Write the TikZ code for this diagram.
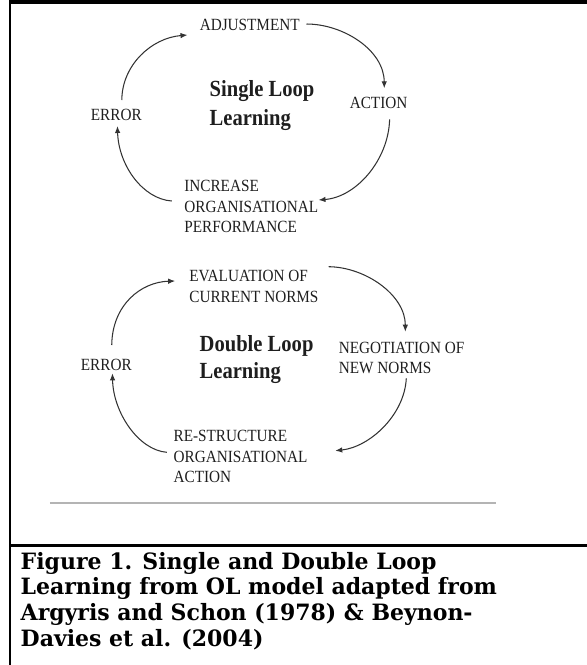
\documentclass[tikz,border=0pt]{standalone}
\usepackage{fontspec}
\setmainfont{Liberation Serif}
\newfontfamily\capfont{DejaVu Serif}
\usetikzlibrary{arrows.meta}
\definecolor{txtc}{HTML}{1E1E1E}
\definecolor{arrc}{HTML}{333333}
\definecolor{rulegray}{HTML}{B4B4B4}
\newcommand\mlines[1]{\begin{tabular}[t]{@{}l@{}}#1\end{tabular}}
\begin{document}
\begin{tikzpicture}[x=1pt,y=-1pt,xscale=0.891,
  lbl/.style={anchor=base west, inner sep=0pt, transform shape, text=txtc, font=\fontsize{17.1}{20.6}\selectfont},
  ttl/.style={anchor=base west, inner sep=0pt, transform shape, text=txtc, font=\bfseries\fontsize{23.1}{#1}\selectfont},
  flow/.style={draw=arrc, line width=1.05pt, -{Latex[length=7pt,width=5.5pt]}}]
\useasboundingbox (0,0) rectangle (658.8,665);
% frame
\draw[line width=3.5pt] (11,2.2) -- (658.8,2.2);
\draw[line width=2pt] (11,0) -- (11,665);
\draw[line width=2.4pt] (11,545.5) -- (658.8,545.5);
\draw[line width=2pt, rulegray] (56,502.5) -- (557,502.5);
% single loop
\node[lbl] (adj) at (224,30.7) {ADJUSTMENT};
\node[lbl] (act) at (392.4,108.3) {ACTION};
\node[lbl] (err1) at (101.8,120) {ERROR};
\node[lbl] (inc) at (206.7,191.7) {\mlines{INCREASE\\ORGANISATIONAL\\PERFORMANCE}};
\node[ttl=28.3] (sll) at (235.1,96.7) {\mlines{Single Loop\\Learning}};
\coordinate (a1s) at (344,24);      \coordinate (a1e) at (431.3,88.3);
\coordinate (a2s) at (437.3,119.3); \coordinate (a2e) at (357.5,200);
\coordinate (a3s) at (192.8,201);   \coordinate (a3e) at (131.8,126);
\coordinate (a4s) at (136.7,100);   \coordinate (a4e) at (210.4,35);
\draw[flow] (a1s) .. controls (385,24) and (431,50) .. (a1e);
\draw[flow] (a2s) .. controls (436,160) and (400,197) .. (a2e);
\draw[flow] (a3s) .. controls (160,199) and (133,165) .. (a3e);
\draw[flow] (a4s) .. controls (137,65) and (170,38) .. (a4e);
% double loop
\node[lbl] (eval) at (212.3,281.7) {\mlines{EVALUATION OF\\CURRENT NORMS}};
\node[lbl] (neg) at (380,353.3) {\mlines{NEGOTIATION OF\\NEW NORMS}};
\node[lbl] (err2) at (90.6,370) {ERROR};
\node[lbl] (rest) at (194.7,441.7) {\mlines{RE-STRUCTURE\\ORGANISATIONAL\\ACTION}};
\node[ttl=26.6] (dll) at (223.9,351.7) {\mlines{Double Loop\\Learning}};
\coordinate (b1s) at (368.8,266.7); \coordinate (b1e) at (454.9,331.7);
\coordinate (b2s) at (456,378.3);   \coordinate (b2e) at (376.3,450.7);
\coordinate (b3s) at (187.2,452.3); \coordinate (b3e) at (126.2,373.3);
\coordinate (b4s) at (125.4,345);   \coordinate (b4e) at (196.6,281);
\draw[flow] (b1s) .. controls (410,267) and (455,295) .. (b1e);
\draw[flow] (b2s) .. controls (454,415) and (415,447) .. (b2e);
\draw[flow] (b3s) .. controls (155,450) and (127,412) .. (b3e);
\draw[flow] (b4s) .. controls (126,305) and (158,282) .. (b4e);
% caption
\node[anchor=base west, inner sep=0pt, transform shape, xscale=1.097, font=\capfont\bfseries\fontsize{22.5}{25.8}\selectfont] (cap) at (23,569)
  {\mlines{Figure 1. Single and Double Loop\\Learning from OL model adapted from\\Argyris and Schon (1978) \& Beynon-\\Davies et al. (2004)}};
\end{tikzpicture}
\end{document}
